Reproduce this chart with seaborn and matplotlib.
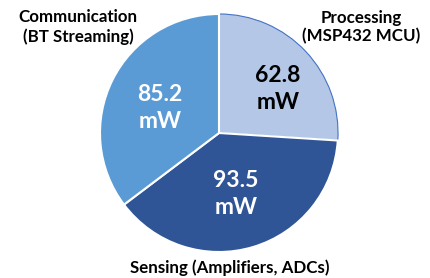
import matplotlib
matplotlib.use("Agg")
import matplotlib.pyplot as plt
import seaborn as sns

# power breakdown (mW)
parts = ["Processing\n(MSP432 MCU)", "Sensing (Amplifiers, ADCs)", "Communication\n(BT Streaming)"]
power_mw = [62.8, 93.5, 85.2]
value_labels = ["62.8\nmW", "93.5\nmW", "85.2\nmW"]

sns.set_theme(style="white")
plt.rcParams['font.family'] = ['Lato', 'DejaVu Sans']

colors = ["#B4C7E7", "#2F5597", "#5B9BD5"]
value_colors = ["black", "white", "white"]

fig = plt.figure(figsize=(4.3, 2.78), dpi=100)
ax = fig.add_axes([0, 0, 1, 1])

cx, cy, r = 219, 145, 119
wedges, _ = ax.pie(power_mw, colors=colors, startangle=90, counterclock=False,
                   explode=[0.04, 0, 0], center=(cx, cy), radius=r,
                   wedgeprops=dict(edgecolor="white", linewidth=1.5))
wedges[0].set_edgecolor("#4472C4")
wedges[0].set_linewidth(0.8)

# pie() resets limits, so set them afterwards
ax.set_xlim(0, 430)
ax.set_ylim(0, 278)
ax.set_aspect("equal")
ax.axis("off")

# value labels inside slices
val_pos = [(278, 189), (236, 84), (160, 170)]
for (x, y), txt, c in zip(val_pos, value_labels, value_colors):
    ax.text(x, y, txt, ha="center", va="center", fontsize=16.5, fontweight="bold",
            color=c, linespacing=1.3)

# category labels outside
name_pos = [(361, 251), (230, 10), (78, 251)]
for (x, y), txt in zip(name_pos, parts):
    ax.text(x, y, txt, ha="center", va="center", fontsize=12.2, fontweight="bold",
            color="black", linespacing=1.2)

fig.savefig("out.png", dpi=100)
